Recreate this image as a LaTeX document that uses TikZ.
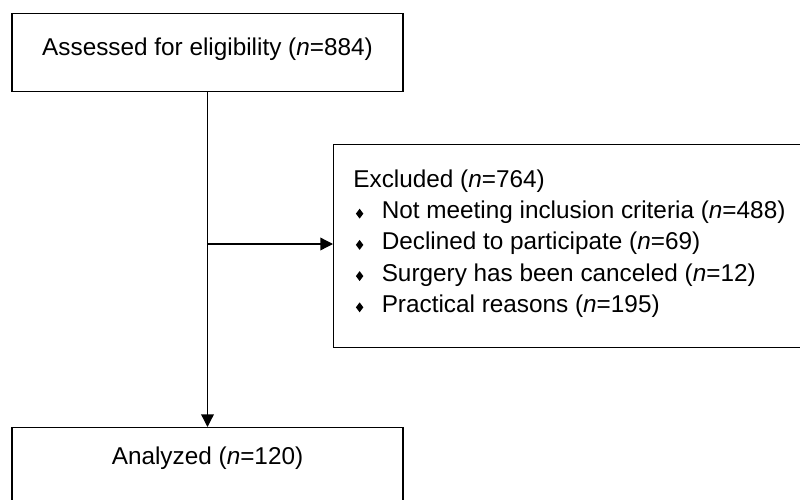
\documentclass[tikz,border=0pt]{standalone}
\usepackage{fontspec}
\setmainfont{Liberation Sans}
\usetikzlibrary{arrows.meta}
\newcommand{\dmd}{\makebox[20.2pt][l]{\hspace{1.8pt}\scalebox{0.75}[1]{\rotatebox{45}{\rule{5pt}{5pt}}}}}

\begin{document}
\begin{tikzpicture}[x=0.025cm,y=-0.025cm,
  box/.style={draw,line width=0.95pt,inner ysep=0pt,font=\fontsize{17.3}{22.2}\selectfont},
  arr/.style={line width=0.95pt,-{Triangle[length=9pt,width=9pt]}}]
\clip (0,0) rectangle (800,499);
\node[box,anchor=north,minimum width=278.1pt,text height=29.9pt,text depth=25.6pt] (Ass) at (207.5,13){Assessed for eligibility (\textit{n}=884)};
\node[box,anchor=north,minimum width=278.1pt,text height=26.3pt,text depth=60pt] (Ana) at (207.5,427){Analyzed (\textit{n}=120)};
\node[box,anchor=north west,inner xsep=14pt,text height=30.4pt,text depth=114pt] (Exc) at (333,144){\makebox[380pt][l]{\begin{tabular}[t]{@{}l@{}}
Excluded (\textit{n}=764)\\
\dmd Not meeting inclusion criteria (\textit{n}=488)\\
\dmd Declined to participate (\textit{n}=69)\\
\dmd Surgery has been canceled (\textit{n}=12)\\
\dmd Practical reasons (\textit{n}=195)
\end{tabular}}};
\coordinate (split) at (208,244);
\draw[arr] (Ass.south) -- (Ana.north);
\draw[arr] (split) -- (split -| Exc.west);
\end{tikzpicture}
\end{document}
